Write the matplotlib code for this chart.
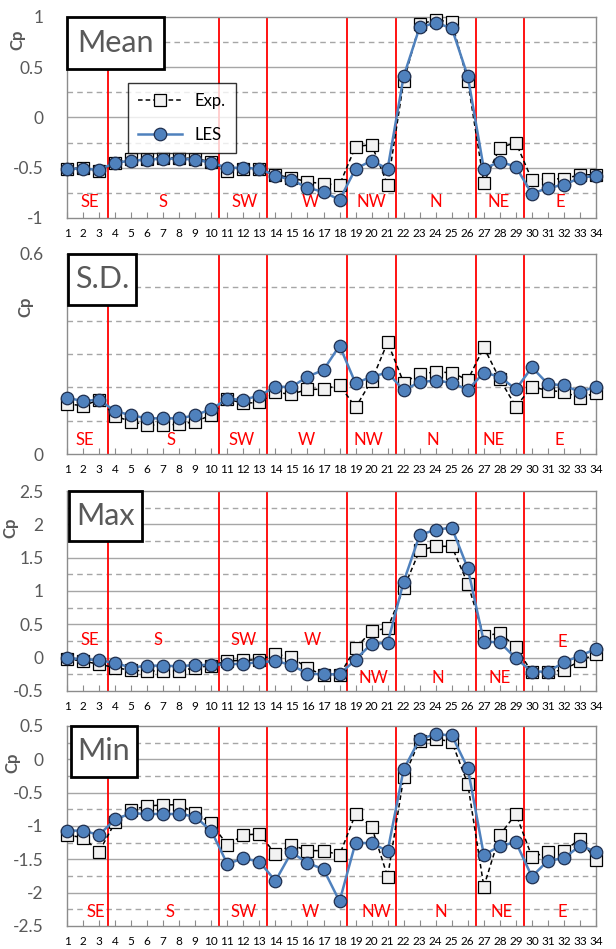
import matplotlib
matplotlib.use('Agg')
import matplotlib.pyplot as plt
from matplotlib.patches import Rectangle
from matplotlib.ticker import MultipleLocator, FuncFormatter
import numpy as np

plt.rcParams['font.family'] = ['Lato', 'DejaVu Sans']
plt.rcParams['axes.unicode_minus'] = False

taps = np.arange(1, 35)

mean_exp = [-0.51, -0.50, -0.53, -0.45, -0.41, -0.41, -0.40, -0.40, -0.41, -0.44,
            -0.53, -0.51, -0.51, -0.57, -0.60, -0.64, -0.66, -0.67, -0.29, -0.27,
            -0.67, 0.36, 0.93, 0.97, 0.95, 0.36, -0.65, -0.30, -0.25, -0.62,
            -0.61, -0.61, -0.57, -0.57]
mean_les = [-0.51, -0.51, -0.52, -0.45, -0.43, -0.42, -0.41, -0.41, -0.42, -0.45,
            -0.50, -0.50, -0.51, -0.58, -0.62, -0.70, -0.74, -0.82, -0.51, -0.43,
            -0.51, 0.41, 0.90, 0.94, 0.89, 0.41, -0.51, -0.44, -0.49, -0.76,
            -0.70, -0.67, -0.60, -0.58]

sd_exp = [0.150, 0.145, 0.162, 0.114, 0.097, 0.087, 0.087, 0.089, 0.097, 0.117,
          0.165, 0.152, 0.155, 0.185, 0.179, 0.194, 0.194, 0.207, 0.140, 0.220,
          0.335, 0.214, 0.240, 0.246, 0.244, 0.222, 0.320, 0.224, 0.142, 0.202,
          0.190, 0.187, 0.167, 0.184]
sd_les = [0.167, 0.160, 0.162, 0.129, 0.116, 0.107, 0.107, 0.107, 0.116, 0.135,
          0.165, 0.163, 0.175, 0.202, 0.201, 0.232, 0.252, 0.325, 0.212, 0.232,
          0.244, 0.191, 0.216, 0.220, 0.214, 0.192, 0.244, 0.232, 0.194, 0.260,
          0.210, 0.206, 0.186, 0.202]

max_exp = [-0.02, -0.05, -0.10, -0.15, -0.19, -0.20, -0.20, -0.20, -0.15, -0.12,
           -0.05, -0.04, -0.03, 0.05, 0.01, -0.16, -0.26, -0.26, 0.14, 0.40,
           0.44, 1.04, 1.61, 1.67, 1.67, 1.11, 0.32, 0.37, 0.16, -0.22,
           -0.22, -0.18, -0.05, 0.06]
max_les = [-0.01, -0.02, -0.04, -0.08, -0.15, -0.12, -0.12, -0.13, -0.11, -0.11,
           -0.10, -0.09, -0.07, -0.05, -0.11, -0.24, -0.25, -0.25, -0.03, 0.21,
           0.22, 1.14, 1.84, 1.92, 1.95, 1.34, 0.24, 0.23, -0.01, -0.21,
           -0.21, -0.07, 0.03, 0.13]

min_exp = [-1.135, -1.175, -1.385, -0.945, -0.76, -0.70, -0.685, -0.68, -0.81, -0.96,
           -1.285, -1.135, -1.12, -1.42, -1.285, -1.37, -1.37, -1.435, -0.82, -1.01,
           -1.76, -0.27, 0.28, 0.305, 0.265, -0.37, -1.91, -1.135, -0.82, -1.46,
           -1.395, -1.37, -1.20, -1.51]
min_les = [-1.07, -1.07, -1.135, -0.90, -0.81, -0.82, -0.82, -0.82, -0.86, -1.075,
           -1.57, -1.485, -1.535, -1.825, -1.395, -1.555, -1.65, -2.13, -1.25, -1.26,
           -1.375, -0.15, 0.305, 0.375, 0.36, -0.135, -1.435, -1.30, -1.245, -1.76,
           -1.52, -1.485, -1.295, -1.385]

faces = ['SE', 'S', 'SW', 'W', 'NW', 'N', 'NE', 'E']
face_bounds = [3.55, 10.5, 13.5, 18.45, 21.5, 26.5, 29.5]

panels = [
    ('Mean', mean_exp, mean_les, (-1, 1), 0.5, 0.25),
    ('S.D.', sd_exp, sd_les, (0, 0.6), 0.6, 0.1),
    ('Max', max_exp, max_les, (-0.5, 2.5), 0.5, 0.25),
    ('Min', min_exp, min_les, (-2.5, 0.5), 0.5, 0.25),
]

# layout (figure fractions) and per-panel decorations
ax_rects = [[0.1088, 0.7703, 0.8588, 0.2118],
            [0.1088, 0.5216, 0.8588, 0.2108],
            [0.1088, 0.2719, 0.8588, 0.2107],
            [0.1088, 0.0243, 0.8588, 0.2107]]
box_rects = [(0.0, 0.741, 0.183), (0.002, 0.745, 0.130),
             (0.004, 0.750, 0.142), (0.008, 0.745, 0.132)]
cp_pos = [(-0.079, 0.886), (-0.064, 0.735), (-0.092, 0.815), (-0.088, 0.815)]
face_x = [[2.4, 7.0, 12.1, 16.2, 20.0, 24.0, 27.9, 31.8],
          [2.1, 7.5, 11.9, 15.9, 19.8, 23.8, 27.6, 31.7],
          [2.4, 6.7, 12.0, 16.3, 20.1, 24.1, 28.0, 31.9],
          [2.8, 7.4, 12.0, 16.2, 20.3, 24.3, 28.1, 31.9]]
face_y = [[-0.84] * 8,
          [0.042] * 8,
          [0.26, 0.26, 0.26, 0.26, -0.305, -0.305, -0.305, 0.23],
          [-2.29] * 8]

fig = plt.figure(figsize=(6.16, 9.49), dpi=100)
grid_c = '#a6a6a6'
spine_c = '#8c8c8c'
txt_c = '#595959'
fmt = FuncFormatter(lambda v, p: '%g' % round(v, 6))

for i, (name, exp, les, ylim, major, minor) in enumerate(panels):
    ax = fig.add_axes(ax_rects[i])
    ax.set_xlim(1, 34)
    ax.set_ylim(*ylim)
    ax.yaxis.set_major_locator(MultipleLocator(major))
    ax.yaxis.set_minor_locator(MultipleLocator(minor))
    ax.yaxis.set_major_formatter(fmt)
    ax.set_xticks(taps)
    ax.tick_params(axis='x', direction='in', length=4, color=spine_c,
                   labelsize=8.5, pad=7, labelcolor='black')
    ax.tick_params(axis='y', which='both', length=0, labelsize=12.5,
                   labelcolor=txt_c, pad=17)
    for s in ax.spines.values():
        s.set_color(spine_c)
        s.set_linewidth(1)

    # grid: solid majors, dashed minors
    lo, hi = ylim
    for v in np.arange(lo, hi + 1e-9, minor):
        is_major = abs(v / major - round(v / major)) < 1e-6
        if abs(v - lo) < 1e-9 or abs(v - hi) < 1e-9:
            continue
        if is_major:
            ax.axhline(v, color=grid_c, lw=1, zorder=0)
        else:
            ax.axhline(v, color=grid_c, lw=1, ls=(0, (4, 3)), zorder=0)

    for b in face_bounds:
        ax.axvline(b, color='#ff0000', lw=1.3, zorder=1)

    for fx, fy, f in zip(face_x[i], face_y[i], faces):
        ax.text(fx, fy, f, color='#ff0000', fontsize=12, ha='center',
                va='center', zorder=2)

    ax.plot(taps, exp, ls=(0, (3, 2)), color='black', lw=1.1, marker='s',
            ms=8.5, mfc='#f2f2f2', mec='black', mew=0.9, label='Exp.',
            clip_on=False, zorder=4)
    ax.plot(taps, les, ls='-', color='#4f81bd', lw=1.8, marker='o',
            ms=9, mfc='#4f81bd', mec='#1f2f4f', mew=0.9, label='LES',
            clip_on=False, zorder=5)

    x0, y0, x1 = box_rects[i]
    ax.add_patch(Rectangle((x0, y0), x1 - x0, 1 - y0, transform=ax.transAxes,
                           facecolor='white', edgecolor='black', lw=2,
                           zorder=6, clip_on=False))
    ax.text((x0 + x1) / 2, (y0 + 1) / 2, name, transform=ax.transAxes,
            fontsize=22, color=txt_c, ha='center', va='center', zorder=7)

    ax.set_ylabel('Cp', fontsize=12, fontweight='bold', color=txt_c)
    ax.yaxis.set_label_coords(*cp_pos[i])

    if i == 0:
        leg = ax.legend(loc='upper left', bbox_to_anchor=(0.10, 0.715),
                        fontsize=12, frameon=True, fancybox=False,
                        edgecolor='black', labelspacing=1.1,
                        handlelength=2.6, borderpad=0.6)
        leg.get_frame().set_linewidth(1)
        leg.set_zorder(8)

fig.savefig('out.png', dpi=100)
